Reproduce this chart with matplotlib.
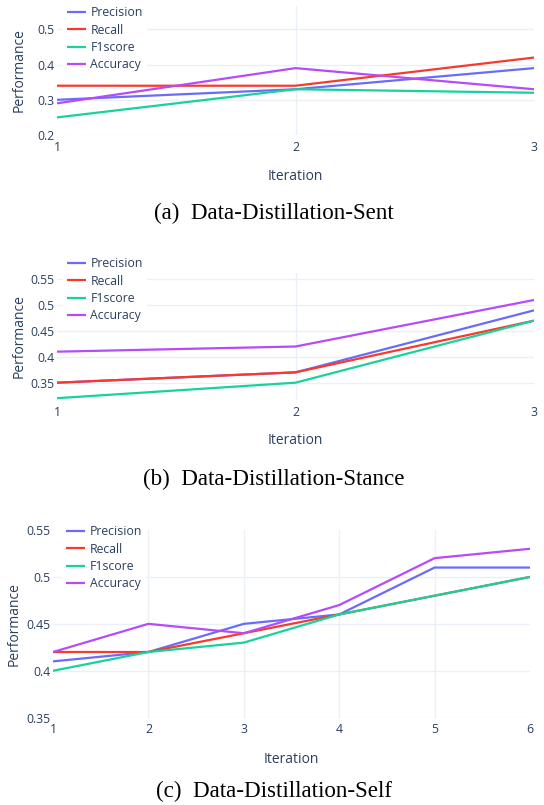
import matplotlib
matplotlib.use("Agg")
import matplotlib.pyplot as plt

# series names and colours
series = ["Precision", "Recall", "F1score", "Accuracy"]
colors = ["#6a6cf9", "#f8392d", "#17d29b", "#b64bf9"]

# (a) Data-Distillation-Sent
iters_sent = [1, 2, 3]
precision_sent = [0.30, 0.33, 0.39]
recall_sent = [0.34, 0.34, 0.42]
f1_sent = [0.25, 0.33, 0.32]
accuracy_sent = [0.29, 0.39, 0.33]

# (b) Data-Distillation-Stance
iters_stance = [1, 2, 3]
precision_stance = [0.35, 0.37, 0.49]
recall_stance = [0.35, 0.37, 0.47]
f1_stance = [0.32, 0.35, 0.47]
accuracy_stance = [0.41, 0.42, 0.51]

# (c) Data-Distillation-Self
iters_self = [1, 2, 3, 4, 5, 6]
precision_self = [0.41, 0.42, 0.45, 0.46, 0.51, 0.51]
recall_self = [0.42, 0.42, 0.44, 0.46, 0.48, 0.50]
f1_self = [0.40, 0.42, 0.43, 0.46, 0.48, 0.50]
accuracy_self = [0.42, 0.45, 0.44, 0.47, 0.52, 0.53]

captions = ["(a)  Data-Distillation-Sent", "(b)  Data-Distillation-Stance",
            "(c)  Data-Distillation-Self"]

W, H = 544, 805
TXT = "#2a3f5f"
GRID = "#ebf0f8"
fig = plt.figure(figsize=(W / 100, H / 100), dpi=100)


def px_axes(x0, x1, y0, y1):
    # pixel box (top-left origin) -> figure axes
    return fig.add_axes([x0 / W, 1 - y1 / H, (x1 - x0) / W, (y1 - y0) / H])


def panel(box, x, ys, ylim, yticks, ylabels, legend_xy, ylab_x, xlab_y,
          hide_top_grid=False):
    ax = px_axes(*box)
    for name, c, y in zip(series, colors, ys):
        ax.plot(x, y, color=c, lw=1.6, label=name, solid_capstyle="butt")
    ax.set_xlim(x[0], x[-1])
    ax.set_ylim(*ylim)
    ax.set_xticks(x)
    ax.set_yticks(yticks)
    ax.set_yticklabels(ylabels)
    ax.grid(True, color=GRID, lw=1)
    ax.set_axisbelow(True)
    for s in ax.spines.values():
        s.set_visible(False)
    ax.tick_params(length=0, labelsize=8.8, labelcolor=TXT, pad=2)
    ax.tick_params(axis="x", pad=4)
    for lab in ax.get_xticklabels() + ax.get_yticklabels():
        lab.set_fontfamily("Open Sans")
    xg = ax.get_xgridlines()
    xg[0].set_visible(False)
    xg[-1].set_visible(False)
    if hide_top_grid:
        ax.get_ygridlines()[-1].set_visible(False)

    ax.set_xlabel("Iteration", fontsize=10, color=TXT, fontfamily="Open Sans")
    ax.set_ylabel("Performance", fontsize=10, color=TXT, fontfamily="Open Sans")
    x0, x1, y0, y1 = box
    ax.yaxis.set_label_coords((ylab_x - x0) / (x1 - x0), 0.5)
    ax.xaxis.set_label_coords(0.5, (y1 - xlab_y) / (y1 - y0))

    leg = ax.legend(loc="upper left",
                    bbox_to_anchor=(legend_xy[0] / W, 1 - legend_xy[1] / H),
                    bbox_transform=fig.transFigure, frameon=True,
                    fancybox=False, edgecolor="none", facecolor="white",
                    framealpha=1, borderpad=0.3, borderaxespad=0,
                    handlelength=1.6, handletextpad=0.35, labelspacing=0.36,
                    prop={"family": "Open Sans", "size": 8.8})
    for t in leg.get_texts():
        t.set_color(TXT)
    return ax


panel((57, 534, 6, 135), iters_sent,
      [precision_sent, recall_sent, f1_sent, accuracy_sent],
      (0.2, 0.5665), [0.2, 0.3, 0.4, 0.5], ["0.2", "0.3", "0.4", "0.5"],
      (63, 2.5), 27, 169)

panel((57, 534, 272.5, 400), iters_stance,
      [precision_stance, recall_stance, f1_stance, accuracy_stance],
      (0.3165, 0.5632), [0.35, 0.4, 0.45, 0.5, 0.55],
      ["0.35", "0.4", "0.45", "0.5", "0.55"],
      (63, 253.5), 27, 433)

panel((53, 530, 530, 717.7), iters_self,
      [precision_self, recall_self, f1_self, accuracy_self],
      (0.35, 0.55), [0.35, 0.4, 0.45, 0.5, 0.55],
      ["0.35", "0.4", "0.45", "0.5", "0.55"],
      (62, 521.5), 22, 752, hide_top_grid=True)

for cap, yb in zip(captions, [219, 485, 797]):
    fig.text(274 / W, 1 - yb / H, cap, ha="center", va="baseline",
             fontsize=16.6, fontfamily="Liberation Serif", color="black")

fig.savefig("out.png", dpi=100)
